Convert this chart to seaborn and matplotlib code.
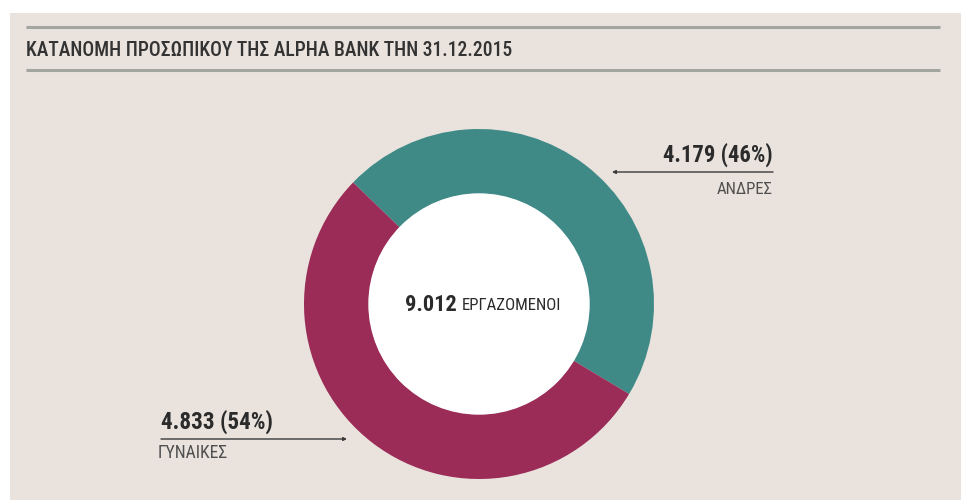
import matplotlib
matplotlib.use("Agg")
import matplotlib.pyplot as plt
from matplotlib import font_manager as fm
from matplotlib.patches import Rectangle, Circle
import seaborn as sns

# Staff breakdown, 31.12.2015
categories = ["ΑΝΔΡΕΣ", "ΓΥΝΑΙΚΕΣ"]
employees = [4179, 4833]
shares = ["46%", "54%"]
total_label = "9.012"
total_text = "ΕΡΓΑΖΟΜΕΝΟΙ"
title = "ΚΑΤΑΝΟΜΗ ΠΡΟΣΩΠΙΚΟΥ ΤΗΣ ALPHA BANK ΤΗΝ 31.12.2015"

sns.set_theme(style="white")


def pick_narrow_font():
    """Return (family, stretch) of the narrowest installed sans family."""
    fonts = fm.fontManager.ttflist
    names = {f.name for f in fonts}
    for fam in ["Roboto Condensed", "Liberation Sans Narrow", "Open Sans Condensed"]:
        if fam in names:
            return fam, "normal"
    for f in fonts:
        if f.name == "DejaVu Sans" and str(f.stretch) in ("condensed", "semi-condensed"):
            return "DejaVu Sans", "condensed"
    return "Roboto", "normal"


FAMILY, STRETCH = pick_narrow_font()
plt.rcParams["font.family"] = [FAMILY, "DejaVu Sans"]
plt.rcParams["font.stretch"] = STRETCH

W, H = 961, 500
fig = plt.figure(figsize=(W / 100, H / 100), dpi=100, facecolor="white")
ax = fig.add_axes([0, 0, 1, 1])
renderer = fig.canvas.get_renderer()


def Y(y):
    return H - y


def fit_width(t, target):
    bb = t.get_window_extent(renderer)
    t.set_fontsize(t.get_fontsize() * target / bb.width)


BG = "#e9e2dd"
TEAL = "#3f8a87"
MAROON = "#9b2b57"
DARK = "#2b2b2b"
GREY = "#4f4f4f"

# donut
cx, cy, r, r_in = 479, 304, 175, 110
palette = sns.color_palette([TEAL, MAROON])
ax.pie(employees, colors=palette, startangle=136, counterclock=False,
       center=(cx, Y(cy)), radius=r, frame=True,
       wedgeprops=dict(width=r - r_in, edgecolor="none", zorder=2))
ax.set_xlim(0, W)
ax.set_ylim(0, H)
ax.set_aspect("equal")
ax.axis("off")
ax.add_patch(Circle((cx, Y(cy)), r_in, color="white", zorder=3))

# panel background
ax.add_patch(Rectangle((10, 0), W - 10, H - 13, facecolor=BG, edgecolor="none", zorder=0))

# title rules and title
for yy in (27, 70):
    ax.plot([26, 940], [Y(yy), Y(yy)], color="#a3a59f", lw=2.2, zorder=1, solid_capstyle="butt")
t = ax.text(26, Y(50), title, fontsize=12, color="#333333", va="center", ha="left",
            fontweight="medium", zorder=2)
fit_width(t, 486)

# centre total
t = ax.text(405, Y(305), total_label, fontsize=17, fontweight="bold", color=DARK,
            ha="left", va="center", zorder=4)
fit_width(t, 52)
t = ax.text(462, Y(306), total_text, fontsize=9, color=DARK, ha="left", va="center", zorder=4)
fit_width(t, 100)

# men label (right)
t = ax.text(773, Y(155), f"{employees[0]/1000:.3f} ({shares[0]})", fontsize=17,
            fontweight="bold", color=DARK, ha="right", va="center")
fit_width(t, 110)
ax.annotate("", xy=(612, Y(172)), xytext=(773, Y(172)),
            arrowprops=dict(arrowstyle="-|>", color="#3a3a3a", lw=1.0, mutation_scale=5,
                            shrinkA=0, shrinkB=0))
t = ax.text(773, Y(189), categories[0], fontsize=8, color=GREY, ha="right", va="center")
fit_width(t, 56)

# women label (left)
t = ax.text(161, Y(422), f"{employees[1]/1000:.3f} ({shares[1]})", fontsize=17,
            fontweight="bold", color=DARK, ha="left", va="center")
fit_width(t, 112)
ax.annotate("", xy=(347, Y(439)), xytext=(161, Y(439)),
            arrowprops=dict(arrowstyle="-|>", color="#3a3a3a", lw=1.0, mutation_scale=5,
                            shrinkA=0, shrinkB=0))
t = ax.text(158, Y(453), categories[1], fontsize=8, color=GREY, ha="left", va="center")
fit_width(t, 70)

fig.savefig("out.png", dpi=100, facecolor=fig.get_facecolor())
